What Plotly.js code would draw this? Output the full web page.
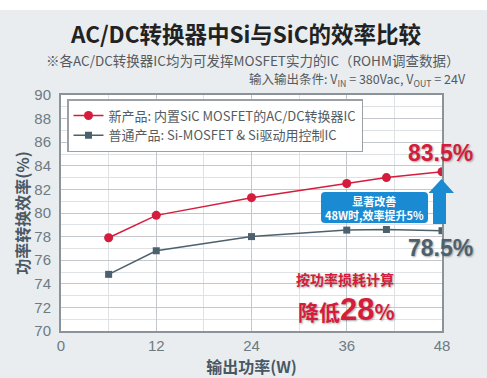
<!DOCTYPE html>
<html><head><meta charset="utf-8">
<script src="https://cdn.plot.ly/plotly-3.0.1.min.js"></script>
<style>html,body{margin:0;padding:0;background:#fff;}#c{width:487px;height:378px;}</style>
</head><body><div id="c"></div>
<script>
// ---- data ----
const powerW = [6, 12, 24, 36, 41, 48];
const sicEff = [77.9, 79.8, 81.3, 82.5, 83.0, 83.5];
const siEff  = [74.8, 76.8, 78.0, 78.55, 78.6, 78.5];
const seriesNames = ['新产品: 内置SiC MOSFET的AC/DC转换器IC', '普通产品: Si-MOSFET & Si驱动用控制IC'];
const xTicks = [0, 12, 24, 36, 48];
const yTicks = [70, 72, 74, 76, 78, 80, 82, 84, 86, 88, 90];

const W = 487, H = 378, L = 61, R = 442, T = 95, B = 331;
const px = x => (x - L) / (R - L);
const py = y => (B - y) / (B - T);
const FONT = '"Noto Sans CJK SC", "Liberation Sans", Arial, sans-serif';
const LAT = '"Liberation Sans", Arial, "Noto Sans CJK SC", sans-serif';
const RED = '#d51c3c', GRAY = '#4c616d', BLUE = '#1a8bd2';

function rrect(x0, y0, x1, y1, r) {
  const X = v => px(v).toFixed(4), Y = v => py(v).toFixed(4);
  return `M${X(x0+r)},${Y(y0)} L${X(x1-r)},${Y(y0)} Q${X(x1)},${Y(y0)} ${X(x1)},${Y(y0+r)} L${X(x1)},${Y(y1-r)} Q${X(x1)},${Y(y1)} ${X(x1-r)},${Y(y1)} L${X(x0+r)},${Y(y1)} Q${X(x0)},${Y(y1)} ${X(x0)},${Y(y1-r)} L${X(x0)},${Y(y0+r)} Q${X(x0)},${Y(y0)} ${X(x0+r)},${Y(y0)} Z`;
}
function poly(pts) {
  return 'M' + pts.map(p => px(p[0]).toFixed(4) + ',' + py(p[1]).toFixed(4)).join(' L') + ' Z';
}
function note(text, x, y, font, extra) {
  return Object.assign({text: text, xref: 'paper', yref: 'paper', x: px(x), y: py(y),
    xanchor: 'center', yanchor: 'middle', showarrow: false, font: font}, extra || {});
}

const traces = [
  {x: powerW, y: sicEff, name: seriesNames[0], type: 'scatter', mode: 'lines+markers',
   line: {color: RED, width: 1.5}, marker: {symbol: 'circle', size: 9, color: RED}},
  {x: powerW, y: siEff, name: seriesNames[1], type: 'scatter', mode: 'lines+markers',
   line: {color: GRAY, width: 1.5}, marker: {symbol: 'square', size: 7, color: GRAY}}
];

const shadow = '1px 1px 2px rgba(0,0,0,0.35)';
const layout = {
  width: W, height: H,
  margin: {l: L, r: W - R, t: T, b: H - B, pad: 0},
  paper_bgcolor: '#e9edf0', plot_bgcolor: '#ffffff',
  font: {family: FONT, color: '#6e7a82'},
  showlegend: true,
  legend: {x: px(67), y: py(99), xanchor: 'left', yanchor: 'top', bgcolor: '#ffffff',
    bordercolor: '#9aa0a5', borderwidth: 1.5, font: {size: 13, color: '#555b60', family: FONT},
    itemwidth: 30, tracegroupgap: 0},
  xaxis: {range: [0, 48], tickvals: xTicks, ticktext: xTicks.map(String), showgrid: true,
    gridcolor: '#c4c8cc', gridwidth: 1, minor: {dtick: 6, tick0: 0, showgrid: true, gridcolor: '#dfe2e5', gridwidth: 1},
    showline: true, linecolor: '#8c9398', linewidth: 2, mirror: true, ticks: '', zeroline: false,
    tickfont: {size: 15, color: '#6e7a82', family: LAT},
    title: {text: '输出功率(W)', font: {size: 16, color: '#4a5863', weight: 'bold'}, standoff: 3}},
  yaxis: {range: [70, 90], tickvals: yTicks, ticktext: yTicks.map(String), showgrid: true,
    gridcolor: '#c4c8cc', gridwidth: 1, minor: {dtick: 1, tick0: 70, showgrid: true, gridcolor: '#dfe2e5', gridwidth: 1},
    showline: true, linecolor: '#8c9398', linewidth: 2, mirror: true, ticks: '', zeroline: false,
    ticklabelstandoff: 5,
    tickfont: {size: 15, color: '#6e7a82', family: LAT},
    title: {text: '功率转换效率(%)', font: {size: 16, color: '#4a5863', weight: 'bold'}, standoff: 1}},
  shapes: [
    {type: 'rect', xref: 'paper', yref: 'paper', x0: px(-5), x1: px(W + 5), y0: py(0), y1: py(10),
     fillcolor: '#ffffff', line: {width: 0}, layer: 'below'},
    {type: 'path', xref: 'paper', yref: 'paper', path: rrect(321, 192, 428, 223, 4),
     fillcolor: BLUE, line: {width: 0}, layer: 'above'},
    {type: 'path', xref: 'paper', yref: 'paper',
     path: poly([[441.5, 179], [454, 193], [446, 193], [446, 224], [433, 224], [433, 193], [428.5, 193]]),
     fillcolor: BLUE, line: {width: 0}, layer: 'above'}
  ],
  annotations: [
    note('AC/DC转换器中Si与SiC的效率比较', 245, 33, {size: 22.5, color: '#222222', family: FONT, weight: 'bold'}),
    note('※各AC/DC转换器IC均为可发挥MOSFET实力的IC（ROHM调查数据）', 252, 60, {size: 13.5, color: '#555a5e', family: FONT}),
    note('输入输出条件: V<sub>IN</sub> = 380Vac, V<sub>OUT</sub> = 24V', 468, 80, {size: 12.5, color: '#555a5e', family: FONT}, {xanchor: 'right'}),
    note('83.5%', 440, 153, {size: 23, color: RED, family: LAT, weight: 'bold', shadow: shadow}),
    note('78.5%', 440, 248, {size: 23, color: GRAY, family: LAT, weight: 'bold', shadow: shadow}),
    note('显著改善<br>48W时,效率提升5%', 374.5, 207.5, {size: 11, color: '#ffffff', family: FONT, weight: 'bold'}),
    note('按功率损耗计算', 345, 279, {size: 14, color: RED, family: FONT, weight: 'bold', shadow: shadow}),
    note('降低<span style="font-size:31px;font-family:Liberation Sans">28</span>%', 346, 309, {size: 21, color: RED, family: FONT, weight: 'bold', shadow: shadow})
  ]
};

Plotly.newPlot('c', traces, layout, {displayModeBar: false, staticPlot: true});
</script></body></html>
